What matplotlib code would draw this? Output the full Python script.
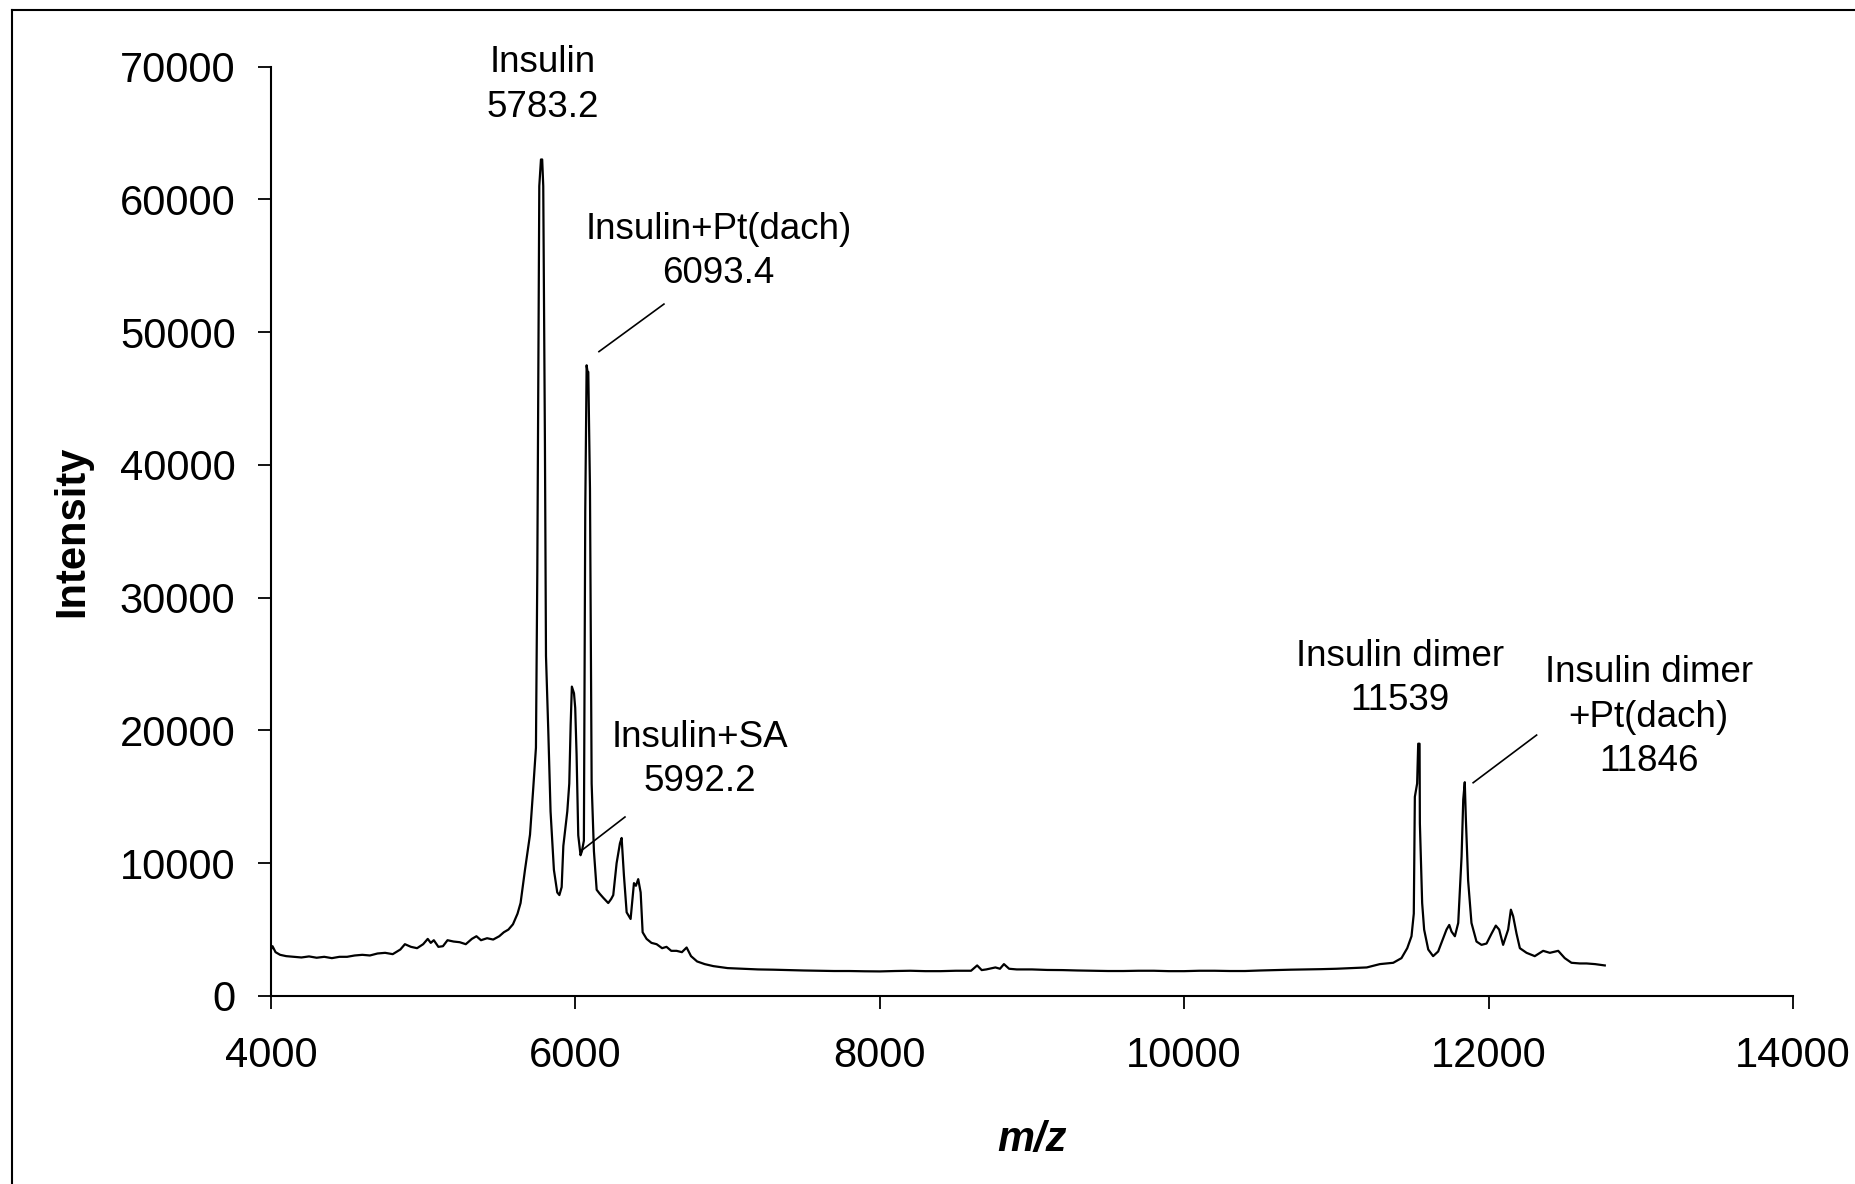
import matplotlib.pyplot as plt
from matplotlib.lines import Line2D

plt.rcParams['font.family'] = ['Liberation Sans', 'DejaVu Sans']

# spectrum (m/z, intensity)
mz = [4000, 4010, 4030, 4060, 4100, 4150, 4200, 4250, 4300, 4350, 4400, 4450,
      4500, 4550, 4600, 4650, 4700, 4750, 4800, 4850, 4880, 4920, 4960, 5000,
      5030, 5050, 5070, 5100, 5130, 5160, 5200, 5240, 5280, 5320, 5350, 5380,
      5420, 5460, 5500, 5530, 5560, 5590, 5620, 5640, 5669, 5702, 5723, 5741,
      5750, 5763, 5774, 5782, 5789, 5800, 5807, 5822, 5837, 5859, 5881, 5895,
      5910, 5921, 5947, 5960, 5969, 5977, 5985, 5991, 5999, 6008, 6019, 6034,
      6043, 6056, 6065, 6074, 6080, 6085, 6096, 6107, 6122, 6140, 6160, 6183,
      6200, 6216, 6235, 6249, 6271, 6293, 6304, 6319, 6337, 6363, 6385, 6398,
      6413, 6429, 6442, 6468, 6500, 6534, 6570, 6599, 6630, 6665, 6700, 6731,
      6760, 6800, 6850, 6906, 7000, 7100, 7200, 7300, 7400, 7500, 7600, 7700,
      7800, 7900, 8000, 8100, 8200, 8300, 8400, 8500, 8600, 8640, 8670, 8700,
      8760, 8790, 8816, 8850, 8900, 9000, 9100, 9200, 9300, 9400, 9500, 9600,
      9700, 9800, 9900, 10000, 10100, 10200, 10300, 10400, 10500, 10600, 10700,
      10800, 10900, 11000, 11100, 11200, 11286, 11374, 11428, 11466, 11494,
      11509, 11516, 11531, 11538, 11547, 11549, 11564, 11577, 11604, 11636,
      11669, 11702, 11724, 11742, 11757, 11779, 11801, 11823, 11834, 11844,
      11851, 11866, 11888, 11921, 11954, 11987, 12020, 12048, 12070, 12096,
      12129, 12147, 12162, 12184, 12206, 12250, 12304, 12359, 12403, 12458,
      12501, 12545, 12600, 12644, 12700, 12764]
intensity = [3500, 3750, 3300, 3100, 3000, 2950, 2900, 2980, 2880, 2950, 2850, 2950,
             2950, 3050, 3100, 3050, 3200, 3250, 3150, 3500, 3900, 3700, 3600, 3900,
             4300, 4000, 4200, 3700, 3750, 4200, 4100, 4050, 3900, 4300, 4500, 4200,
             4350, 4250, 4500, 4800, 5000, 5400, 6200, 7000, 9500, 12150, 15600, 18700,
             32000, 61000, 63000, 63000, 61000, 41700, 25600, 20000, 13900, 9500, 7800, 7600,
             8200, 11300, 13900, 16000, 20400, 23300, 23000, 22800, 21700, 18200, 12100, 10600,
             10900, 11700, 36500, 47500, 47000, 47000, 38200, 16000, 10900, 8000, 7700, 7400,
             7200, 7000, 7300, 7600, 10000, 11500, 11900, 9100, 6300, 5800, 8500, 8300,
             8800, 7800, 4800, 4300, 4000, 3900, 3600, 3700, 3400, 3400, 3300, 3650,
             3000, 2600, 2400, 2250, 2100, 2050, 2000, 1980, 1950, 1920, 1900, 1880,
             1880, 1860, 1850, 1880, 1900, 1870, 1870, 1900, 1900, 2300, 1950, 2000,
             2150, 2050, 2400, 2050, 2000, 2000, 1960, 1950, 1920, 1900, 1880, 1880,
             1900, 1900, 1870, 1870, 1900, 1900, 1880, 1880, 1920, 1950, 1980,
             2000, 2020, 2050, 2100, 2150, 2400, 2500, 2850, 3600, 4500,
             6200, 15000, 16000, 19000, 19000, 13000, 7000, 5000, 3500, 3000,
             3350, 4350, 5000, 5350, 4850, 4500, 5500, 10500, 14800, 16100,
             13400, 8700, 5500, 4100, 3850, 3950, 4700, 5300, 5000, 3850,
             5000, 6500, 6000, 4700, 3600, 3250, 3000, 3400, 3250, 3400,
             2850, 2500, 2450, 2450, 2400, 2300]

xticks = [4000, 6000, 8000, 10000, 12000, 14000]
yticks = [0, 10000, 20000, 30000, 40000, 50000, 60000, 70000]

# labels: (text, x, y) and leader lines
labels = [("Insulin\n5783.2", 5787, 68600),
          ("Insulin+Pt(dach)\n6093.4", 6940, 56060),
          ("Insulin+SA\n5992.2", 6816, 17820),
          ("Insulin dimer\n11539", 11420, 23920),
          ("Insulin dimer\n+Pt(dach)\n11846", 13053, 20990)]
leaders = [((6155, 6582), (48530, 52110)),
           ((6041, 6326), (10960, 13480)),
           ((11899, 12316), (16060, 19650))]

fig = plt.figure(figsize=(18.56, 11.84), dpi=100)
ax = fig.add_axes([0.146, 0.1588, 0.820, 0.785])

ax.plot(mz, intensity, color='black', lw=1.6)
for (xs, ys) in leaders:
    ax.plot(xs, ys, color='black', lw=1.2)
for txt, x, y in labels:
    ax.text(x, y, txt, ha='center', va='center', fontsize=26.5, linespacing=1.35)

ax.set_xlim(4000, 14000)
ax.set_ylim(0, 70000)
ax.set_xticks(xticks)
ax.set_yticks(yticks)
ax.spines['top'].set_visible(False)
ax.spines['right'].set_visible(False)
for s in ('left', 'bottom'):
    ax.spines[s].set_linewidth(1.5)
ax.tick_params(direction='out', length=9.5, width=1.3, labelsize=30)
ax.tick_params(axis='y', pad=16)
ax.tick_params(axis='x', pad=19)

ax.set_ylabel('Intensity', fontsize=30, fontweight='bold', labelpad=20)
ax.set_xlabel('m/z', fontsize=30, fontweight='bold', style='italic', labelpad=32)

# frame around the figure (left and top edges visible)
fig.add_artist(Line2D([12 / 1856, 12 / 1856], [0, 1 - 10 / 1184], transform=fig.transFigure, color='black', lw=1.5))
fig.add_artist(Line2D([12 / 1856, 1], [1 - 10 / 1184, 1 - 10 / 1184], transform=fig.transFigure, color='black', lw=1.5))

plt.savefig('out.png', dpi=100)
